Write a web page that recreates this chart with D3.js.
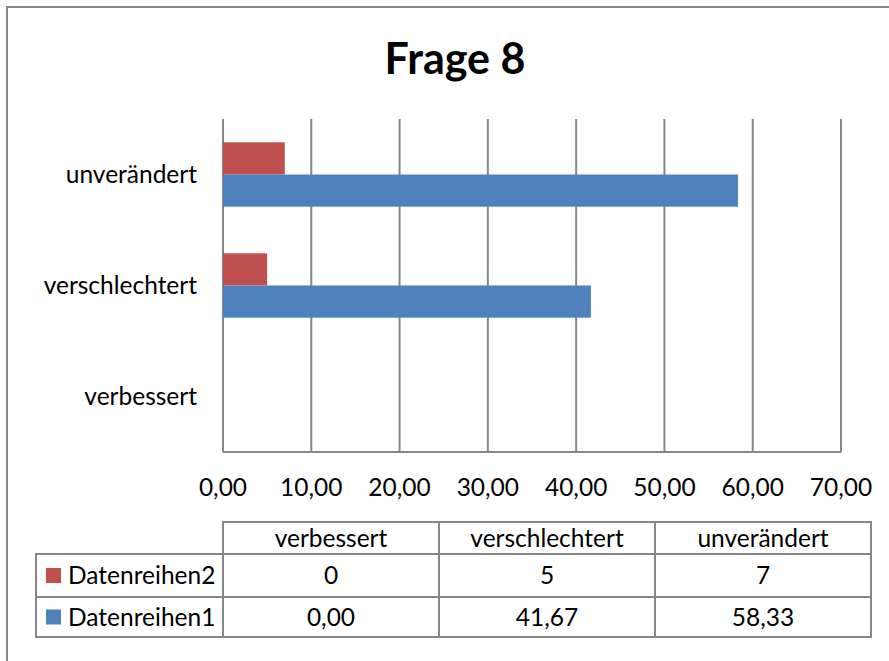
<!DOCTYPE html>
<html>
<head>
<meta charset="utf-8">
<script src="https://cdn.jsdelivr.net/npm/d3@7"></script>
<style>
  body { margin: 0; background: #fff; }
  svg { display: block; font-family: Lato, "Noto Sans", sans-serif; }
</style>
</head>
<body>
<svg id="chart" width="889" height="661"></svg>
<script>
var title = "Frage 8";
var categories = ["verbessert", "verschlechtert", "unverändert"];
var seriesNames = ["Datenreihen2", "Datenreihen1"];
var series2 = [0, 5, 7];
var series1 = [0.00, 41.67, 58.33];
var xTicks = [0, 10, 20, 30, 40, 50, 60, 70];
var colors = ["#C0504D", "#4F81BD"];

var de = d3.formatLocale({decimal: ",", thousands: ".", grouping: [3], currency: ["", " €"]});
var fmt2 = de.format(".2f"),
    fmt0 = de.format("d");

var svg = d3.select("#chart"),
    plot = {left: 223, right: 841, top: 119, bottom: 452},
    gridColor = "#868686",
    fontSize = 24.5;

// outer chart border (runs off the page on the right/bottom)
svg.append("rect")
    .attr("x", 7).attr("y", 7)
    .attr("width", 900).attr("height", 700)
    .attr("fill", "none")
    .attr("stroke", gridColor)
    .attr("stroke-width", 2);

svg.append("text")
    .attr("x", 455)
    .attr("y", 59)
    .attr("dy", "0.35em")
    .attr("text-anchor", "middle")
    .attr("font-weight", "bold")
    .attr("font-size", 43)
    .text(title);

var x = d3.scaleLinear()
    .domain([0, 70])
    .range([plot.left, plot.right]);

var y = d3.scaleBand()
    .domain(categories)
    .range([plot.bottom, plot.top])
    .paddingInner(0.42)
    .paddingOuter(0.21);

var ySub = d3.scaleBand()
    .domain(seriesNames)
    .range([0, y.bandwidth()]);

var rows = categories.map(function(c, i) {
  return {cat: c, values: [series2[i], series1[i]]};
});

// gridlines
svg.append("g")
  .selectAll("line")
  .data(xTicks)
  .enter().append("line")
    .attr("x1", function(d) { return x(d); })
    .attr("x2", function(d) { return x(d); })
    .attr("y1", plot.top)
    .attr("y2", plot.bottom)
    .attr("stroke", gridColor)
    .attr("stroke-width", 2);

svg.append("line")
    .attr("x1", plot.left).attr("x2", plot.right)
    .attr("y1", plot.bottom).attr("y2", plot.bottom)
    .attr("stroke", gridColor)
    .attr("stroke-width", 2);

// bars
svg.append("g")
  .selectAll("g")
  .data(rows)
  .enter().append("g")
    .attr("transform", function(d) { return "translate(0," + y(d.cat) + ")"; })
  .selectAll("rect")
  .data(function(d) { return d.values.map(function(v, j) { return {key: seriesNames[j], value: v, color: colors[j]}; }); })
  .enter().append("rect")
    .attr("x", x(0))
    .attr("y", function(d) { return ySub(d.key); })
    .attr("width", function(d) { return x(d.value) - x(0); })
    .attr("height", ySub.bandwidth())
    .attr("fill", function(d) { return d.color; });

// category labels
svg.append("g")
  .selectAll("text")
  .data(categories)
  .enter().append("text")
    .attr("x", 197)
    .attr("y", function(d) { return y(d) + y.bandwidth() / 2; })
    .attr("dy", "0.35em")
    .attr("text-anchor", "end")
    .attr("font-size", fontSize)
    .text(function(d) { return d; });

// value axis labels
svg.append("g")
  .selectAll("text")
  .data(xTicks)
  .enter().append("text")
    .attr("x", function(d) { return x(d); })
    .attr("y", 487)
    .attr("dy", "0.35em")
    .attr("text-anchor", "middle")
    .attr("font-size", fontSize)
    .text(function(d) { return fmt2(d); });

// data table
var col = d3.scaleBand()
    .domain(categories)
    .range([223, 871]);
var tableRows = [
  {name: seriesNames[0], color: colors[0], values: series2, fmt: fmt0, top: 554, bottom: 597},
  {name: seriesNames[1], color: colors[1], values: series1, fmt: fmt2, top: 597, bottom: 637}
];
var headTop = 522, headBottom = 554, legendLeft = 36;

var table = svg.append("g")
    .attr("fill", "none")
    .attr("stroke", gridColor)
    .attr("stroke-width", 2);

// header cells
table.selectAll(".head")
  .data(categories)
  .enter().append("rect")
    .attr("class", "head")
    .attr("x", function(d) { return col(d); })
    .attr("y", headTop)
    .attr("width", col.bandwidth())
    .attr("height", headBottom - headTop);

tableRows.forEach(function(r) {
  table.append("rect")
      .attr("x", legendLeft)
      .attr("y", r.top)
      .attr("width", col.range()[0] - legendLeft)
      .attr("height", r.bottom - r.top);
  table.selectAll(null)
    .data(categories)
    .enter().append("rect")
      .attr("x", function(d) { return col(d); })
      .attr("y", r.top)
      .attr("width", col.bandwidth())
      .attr("height", r.bottom - r.top);
});

svg.append("g")
  .selectAll("text")
  .data(categories)
  .enter().append("text")
    .attr("x", function(d) { return col(d) + col.bandwidth() / 2; })
    .attr("y", (headTop + headBottom) / 2)
    .attr("dy", "0.35em")
    .attr("text-anchor", "middle")
    .attr("font-size", fontSize)
    .text(function(d) { return d; });

tableRows.forEach(function(r) {
  var mid = (r.top + r.bottom) / 2;
  svg.append("rect")
      .attr("x", 46)
      .attr("y", mid - 7.5)
      .attr("width", 15)
      .attr("height", 15)
      .attr("fill", r.color);
  svg.append("text")
      .attr("x", 68)
      .attr("y", mid)
      .attr("dy", "0.35em")
      .attr("font-size", fontSize)
      .text(r.name);
  svg.append("g")
    .selectAll("text")
    .data(categories)
    .enter().append("text")
      .attr("x", function(d) { return col(d) + col.bandwidth() / 2; })
      .attr("y", mid)
      .attr("dy", "0.35em")
      .attr("text-anchor", "middle")
      .attr("font-size", fontSize)
      .text(function(d, i) { return r.fmt(r.values[i]); });
});
</script>
</body>
</html>
